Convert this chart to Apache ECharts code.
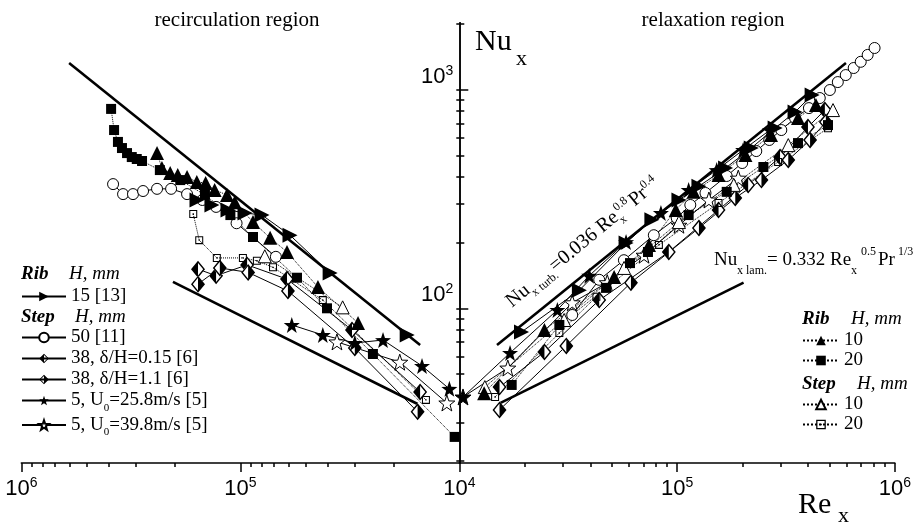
<!DOCTYPE html>
<html>
<head>
<meta charset="utf-8">
<script src="https://cdn.jsdelivr.net/npm/echarts@6/dist/echarts.min.js"></script>
<style>
  html, body { margin: 0; padding: 0; background: #fff; }
  #chart { width: 914px; height: 524px; }
</style>
</head>
<body>
<div id="chart"></div>
<script>
// ---- axis ranges and tick values ----
const xMin = 1e4, xMax = 1e6;
const yMin = 19.6, yMax = 2026;
const majorTicksX = [1e4, 1e5, 1e6];
const minorTicksX = [2e4, 3e4, 4e4, 5e4, 6e4, 7e4, 8e4, 9e4, 2e5, 3e5, 4e5, 5e5, 6e5, 7e5, 8e5, 9e5];
const labelsXLeft = [1e5, 1e6];
const labelsXRight = [1e4, 1e5, 1e6];
const majorTicksY = [100, 1000];
const minorTicksY = [20, 30, 40, 50, 60, 70, 80, 90, 200, 300, 400, 500, 600, 700, 800, 900, 2000];
const labelsY = [100, 1000];

// ---- correlations (end points of the drawn segments) [Re_x, Nu_x] ----
const turbLeft = [[605000, 1324], [15100, 68]];
const turbRight = [[14900, 68], [596000, 1324]];
const lamLeft = [[203000, 132], [15500, 36.5]];
const lamRight = [[15300, 36.7], [202000, 131]];

// ---- Rib, H = 15 mm [13] ----
const rib15Left = [[157700, 313], [134700, 297], [113800, 282], [95200, 273], [79600, 267], [59300, 216], [38900, 145], [17300, 75.5]];
const rib15Right = [[19300, 77.9], [35600, 121], [58300, 199], [76600, 254], [102000, 313], [126000, 362], [167000, 438], [219000, 541], [282000, 668], [348000, 791], [417000, 946]];

// ---- Rib, H = 10 mm ----
const rib10Left = [[240000, 513], [228000, 438], [209000, 416], [193000, 407], [175000, 399], [158000, 378], [144000, 374], [131000, 348], [115000, 330], [106000, 306], [87500, 248], [73100, 210], [61200, 181], [44200, 125], [29000, 85.7]];
const rib10Right = [[13000, 40.9], [24600, 79.6], [51400, 139], [74300, 195], [98600, 282], [119000, 341], [155000, 407], [206000, 503], [270000, 621], [359000, 743], [434000, 852]];

// ---- Rib, H = 20 mm ----
const rib20Left = [[389000, 817], [377000, 654], [362000, 577], [347000, 541], [329000, 513], [313000, 492], [297000, 482], [281000, 472], [233000, 429], [188000, 386], [145000, 330], [111000, 267], [87500, 212], [55100, 138], [40200, 100], [24800, 61.8], [10500, 25.8]];
const rib20Right = [[17400, 44.6], [28800, 83.9], [47200, 124], [60800, 161], [73500, 181], [113000, 267], [169000, 341], [249000, 443], [359000, 570], [493000, 689]];

// ---- Step, H = 50 mm [11] ----
const step50Left = [[381000, 370], [343000, 333], [309000, 333], [278000, 344], [240000, 352], [207000, 352], [175000, 333], [149000, 313], [129000, 291], [104000, 245], [68800, 172]];
const step50Right = [[33000, 93.2], [43900, 135], [57000, 166], [78200, 216], [99600, 259], [115000, 297], [135000, 337], [169000, 403], [199000, 462], [231000, 524], [265000, 589], [301000, 654], [348000, 742], [403000, 824], [452000, 916], [503000, 997], [547000, 1084], [595000, 1167], [647000, 1257], [697000, 1342], [750000, 1443], [807000, 1552]];

// ---- Step, H = 20 mm ----
const step20Left = [[164000, 270], [154000, 205], [128000, 170], [97300, 170], [84000, 165], [70900, 154], [42000, 109], [14200, 38.1]];
const step20Right = [[14600, 39.3], [28800, 77.1], [42600, 113], [82500, 195], [155000, 303], [291000, 467], [493000, 667]];

// ---- Step, H = 10 mm ----
const step10Left = [[77300, 173], [34100, 101]];
const step10Right = [[13100, 43.6], [30300, 88.4], [57100, 153], [102000, 248], [182000, 367], [324000, 558], [520000, 807]];

// ---- Step, H = 38 mm, delta/H = 0.15 and 1.1 [6] ----
const d015Left = [[156000, 151], [129000, 141], [93100, 158], [61200, 136], [30900, 79.6], [15100, 41.4]];
const d015Right = [[15300, 43.6], [24600, 63.1], [43900, 109], [91600, 181], [155000, 282], [212000, 367], [297000, 492], [399000, 675], [477000, 807]];
const d11Left = [[156000, 129], [124000, 153], [92100, 146], [60600, 120], [30000, 65.8], [15500, 33.6]];
const d11Right = [[15300, 34.3], [31000, 67.3], [61400, 131], [126000, 233], [185000, 320], [244000, 386], [324000, 477], [408000, 589], [482000, 711]];

// ---- Step, H = 5 mm [5] ----
const star258Left = [[58200, 83.9], [42000, 75.5], [30000, 69.4], [22300, 71.6], [14800, 54.5], [11100, 42.8]];
const star258Right = [[10400, 39.3], [17100, 62.5], [28200, 98.3], [39500, 141], [58300, 201], [84300, 273], [113000, 348], [152000, 429], [201000, 530], [267000, 654]];
const star398Left = [[36200, 70.2], [18700, 56.7], [11400, 36.9]];
const star398Right = [[10400, 39.3], [16700, 53.3], [33000, 106], [47800, 131], [70500, 175], [102000, 240], [140000, 313], [191000, 394]];

// ---- series names ----
const nRib15 = '15 [13]';
const nStep50 = '50 [11]';
const nD015 = '38, δ/H=0.15 [6]';
const nD11 = '38, δ/H=1.1 [6]';
const nS258 = '5, U0=25.8m/s [5]';
const nS398 = '5, U0=39.8m/s [5]';
const nRib10 = 'Rib 10', nRib20 = 'Rib 20', nStep10 = 'Step 10', nStep20 = 'Step 20';

const legendText = {};
legendText[nRib15] = '{a|15 [13]}';
legendText[nStep50] = '{a|50 [11]}';
legendText[nD015] = '{a|38, δ/H=0.15 [6]}';
legendText[nD11] = '{a|38, δ/H=1.1 [6]}';
legendText[nS258] = '{a|5, U}{s|0}{a|=25.8m/s [5]}';
legendText[nS398] = '{a|5, U}{s|0}{a|=39.8m/s [5]}';
legendText[nRib10] = '{a|10}';
legendText[nRib20] = '{a|20}';
legendText[nStep10] = '{a|10}';
legendText[nStep20] = '{a|20}';

const SANS = "'Liberation Sans Narrow','Arial Narrow','Liberation Sans',Arial,sans-serif";
const SERIF = "'Liberation Serif','Times New Roman',serif";

// ---- marker shapes ----
const STAR = 'path://M10,0 L12.35,6.76 L19.51,6.91 L13.8,11.24 L15.88,18.09 L10,14 L4.12,18.09 L6.2,11.24 L0.49,6.91 L7.65,6.76 Z';
const RING = 'M10,0 L20,10 L10,20 L0,10 Z M10,2.6 L2.6,10 L10,17.4 L17.4,10 Z';
const DIAMOND_LEFT = 'path://' + RING + ' M10,0 L10,20 L0,10 Z';
const DIAMOND_RIGHT = 'path://' + RING + ' M10,0 L20,10 L10,20 Z';
const DOT_SQUARE = 'path://M0,0 H20 V20 H0 Z M2.6,2.6 V17.4 H17.4 V2.6 Z M8.3,8.3 H11.7 V11.7 H8.3 Z';

function axisIdx(side) {
  return side === 'L' ? { xAxisIndex: 0, yAxisIndex: 0 } : { xAxisIndex: 2, yAxisIndex: 1 };
}

function dataSeries(name, data, side, o) {
  return Object.assign({
    type: 'line', name: name, data: data,
    symbol: o.symbol, symbolSize: o.size, symbolRotate: o.rotate || 0,
    showSymbol: true, showAllSymbol: true,
    lineStyle: { color: '#000', width: 1, type: o.dash || 'solid' },
    itemStyle: { color: o.fill, borderColor: '#000', borderWidth: o.border || 0, opacity: 1 },
    silent: true, clip: false, animation: false, z: 3
  }, axisIdx(side));
}

// white body under the half-filled diamonds
function diamondBody(data, side) {
  return Object.assign({
    type: 'line', name: 'body', data: data,
    symbol: 'diamond', symbolSize: [14, 17], showSymbol: true, showAllSymbol: true,
    lineStyle: { opacity: 0, width: 0 },
    itemStyle: { color: '#fff', borderWidth: 0 },
    silent: true, clip: false, animation: false, z: 3
  }, axisIdx(side));
}

function refLine(data, side) {
  return Object.assign({
    type: 'line', name: 'ref', data: data, symbol: 'none',
    lineStyle: { color: '#000', width: 2.6 },
    silent: true, clip: false, animation: false, z: 2
  }, axisIdx(side));
}

const series = [];
series.push(refLine(turbLeft, 'L'), refLine(turbRight, 'R'), refLine(lamLeft, 'L'), refLine(lamRight, 'R'));

const sets = [
  [nStep50, step50Left, step50Right, { symbol: 'circle', size: 11, fill: '#fff', border: 1 }],
  [nD015, d015Left, d015Right, { symbol: DIAMOND_LEFT, size: [14, 17], fill: '#000' }],
  [nD11, d11Left, d11Right, { symbol: DIAMOND_RIGHT, size: [14, 17], fill: '#000' }],
  [nS398, star398Left, star398Right, { symbol: STAR, size: 16, fill: '#fff', border: 1 }],
  [nS258, star258Left, star258Right, { symbol: STAR, size: 16, fill: '#000', border: 0 }],
  [nStep20, step20Left, step20Right, { symbol: DOT_SQUARE, size: 8, fill: '#000', dash: 'dotted' }],
  [nStep10, step10Left, step10Right, { symbol: 'triangle', size: 13, fill: '#fff', border: 1, dash: 'dotted' }],
  [nRib20, rib20Left, rib20Right, { symbol: 'rect', size: 10, fill: '#000', dash: 'dotted' }],
  [nRib10, rib10Left, rib10Right, { symbol: 'triangle', size: 14, fill: '#000', dash: 'dotted' }],
  [nRib15, rib15Left, rib15Right, { symbol: 'triangle', size: 15, fill: '#000', rotate: -90 }]
];
sets.forEach(function (s) {
  const isDiamond = s[3].symbol === DIAMOND_LEFT || s[3].symbol === DIAMOND_RIGHT;
  if (isDiamond) series.push(diamondBody(s[1], 'L'), diamondBody(s[2], 'R'));
  series.push(dataSeries(s[0], s[1], 'L', s[3]), dataSeries(s[0], s[2], 'R', s[3]));
});

// ---- axes ----
function powLabel(v) {
  return '{b|10}{s|' + Math.round(Math.log10(v)) + '}';
}
const powRich = {
  b: { fontFamily: SANS, fontSize: 22, lineHeight: 26, color: '#000' },
  s: { fontFamily: SANS, fontSize: 14, lineHeight: 14, verticalAlign: 'top', color: '#000' }
};
const axisLineStyle = { color: '#000', width: 1.5 };

function xMajor(grid, inverse, labels) {
  return {
    gridIndex: grid, type: 'log', logBase: 10, min: xMin, max: xMax, inverse: inverse, position: 'bottom',
    axisLine: { show: true, onZero: false, lineStyle: axisLineStyle },
    axisTick: { show: true, length: 9, customValues: majorTicksX, lineStyle: axisLineStyle },
    axisLabel: { show: true, customValues: labels, formatter: powLabel, margin: 13, rich: powRich },
    splitLine: { show: false }, minorTick: { show: false }
  };
}
function xMinor(grid, inverse) {
  return {
    gridIndex: grid, type: 'log', logBase: 10, min: xMin, max: xMax, inverse: inverse, position: 'bottom',
    axisLine: { show: false, onZero: false },
    axisTick: { show: true, length: 4, customValues: minorTicksX, lineStyle: axisLineStyle },
    axisLabel: { show: false }, splitLine: { show: false }
  };
}

const option = {
  animation: false,
  backgroundColor: '#fff',
  grid: [
    { left: 21.3, right: 454.7, top: 22.7, bottom: 61 },
    { left: 459.3, right: 17.3, top: 22.7, bottom: 61 }
  ],
  xAxis: [xMajor(0, true, labelsXLeft), xMinor(0, true), xMajor(1, false, labelsXRight), xMinor(1, false)],
  yAxis: [
    {
      gridIndex: 0, type: 'log', logBase: 10, min: yMin, max: yMax, position: 'right',
      axisLine: { show: true, onZero: false, lineStyle: axisLineStyle },
      axisTick: { show: true, inside: true, length: 3, customValues: majorTicksY.concat(minorTicksY), lineStyle: axisLineStyle },
      axisLabel: { show: true, inside: true, customValues: labelsY, formatter: powLabel, margin: 6, verticalAlign: 'bottom', rich: powRich },
      splitLine: { show: false }
    },
    {
      gridIndex: 1, type: 'log', logBase: 10, min: yMin, max: yMax, position: 'left',
      axisLine: { show: true, onZero: false, lineStyle: axisLineStyle },
      axisTick: { show: true, inside: true, length: 5, customValues: minorTicksY, lineStyle: axisLineStyle },
      axisLabel: { show: false }, splitLine: { show: false }
    },
    {
      gridIndex: 1, type: 'log', logBase: 10, min: yMin, max: yMax, position: 'left',
      axisLine: { show: false, onZero: false },
      axisTick: { show: true, inside: true, length: 9, customValues: majorTicksY, lineStyle: axisLineStyle },
      axisLabel: { show: false }, splitLine: { show: false }
    }
  ],
  legend: [],
  series: series,
  graphic: []
};

// ---- legends ----
function legendBox(names, left, top, itemWidth, gap) {
  return {
    data: names, left: left, top: top, orient: 'vertical', padding: 0,
    itemWidth: itemWidth, itemHeight: 12, itemGap: gap, selectedMode: false,
    formatter: function (n) { return legendText[n]; },
    textStyle: {
      color: '#000', fontFamily: SERIF, fontSize: 19,
      rich: {
        a: { fontFamily: SERIF, fontSize: 19, lineHeight: 26, color: '#000' },
        s: { fontFamily: SERIF, fontSize: 11, lineHeight: 4, verticalAlign: 'bottom', color: '#000' }
      }
    }
  };
}
option.legend.push(
  legendBox([nRib15], 21, 287, 44, 2),
  legendBox([nStep50, nD015, nD11, nS258, nS398], 21, 328, 44, 2),
  legendBox([nRib10, nRib20], 802, 331, 36, 1),
  legendBox([nStep10, nStep20], 802, 395, 36, 1)
);

// ---- text elements ----
function txt(x, y, text, size, extra) {
  return {
    type: 'text', x: x, y: y, silent: true,
    style: Object.assign({
      text: text, fontFamily: SERIF, fontSize: size, fill: '#000',
      textAlign: 'left', align: 'left', textVerticalAlign: 'middle', verticalAlign: 'middle'
    }, extra || {})
  };
}
const centered = { textAlign: 'center', align: 'center' };
option.graphic.push(
  txt(237, 20.6, 'recirculation region', 21, centered),
  txt(713, 20.6, 'relaxation region', 21, centered),
  txt(475, 42, 'Nu', 30),
  txt(516, 59.5, 'x', 22),
  txt(798, 505, 'Re', 30),
  txt(838, 516.5, 'x', 22),
  // legend headers
  txt(21, 274, 'Rib', 19, { fontWeight: 'bold', fontStyle: 'italic' }),
  txt(69, 274, 'H, mm', 19, { fontStyle: 'italic' }),
  txt(21, 317, 'Step', 19, { fontWeight: 'bold', fontStyle: 'italic' }),
  txt(75, 317, 'H, mm', 19, { fontStyle: 'italic' }),
  txt(802, 319, 'Rib', 19, { fontWeight: 'bold', fontStyle: 'italic' }),
  txt(851, 319, 'H, mm', 19, { fontStyle: 'italic' }),
  txt(802, 384, 'Step', 19, { fontWeight: 'bold', fontStyle: 'italic' }),
  txt(857, 384, 'H, mm', 19, { fontStyle: 'italic' }),
  // laminar correlation
  txt(714, 260.5, 'Nu', 19),
  txt(737, 271.3, 'x lam.', 12),
  txt(767, 260.5, '= 0.332 Re', 19),
  txt(851, 271.3, 'x', 12),
  txt(861, 252.3, '0.5', 12),
  txt(878, 260.5, 'Pr', 19),
  txt(898, 252.3, '1/3', 12),
  // turbulent correlation, written along its line
  {
    type: 'group', x: 513, y: 309, rotation: 39.5 * Math.PI / 180, silent: true,
    children: [
      txt(0, -6.8, 'Nu', 20),
      txt(25, 1.3, 'x turb.', 12),
      txt(56, -6.8, '=0.036 Re', 20),
      txt(139, 1.3, 'x', 12),
      txt(142, -12.7, '0.8', 12),
      txt(159, -6.8, 'Pr', 20),
      txt(177, -12.7, '0.4', 12)
    ]
  }
);

const chart = echarts.init(document.getElementById('chart'), null, { renderer: 'canvas' });
chart.setOption(option);
</script>
</body>
</html>
